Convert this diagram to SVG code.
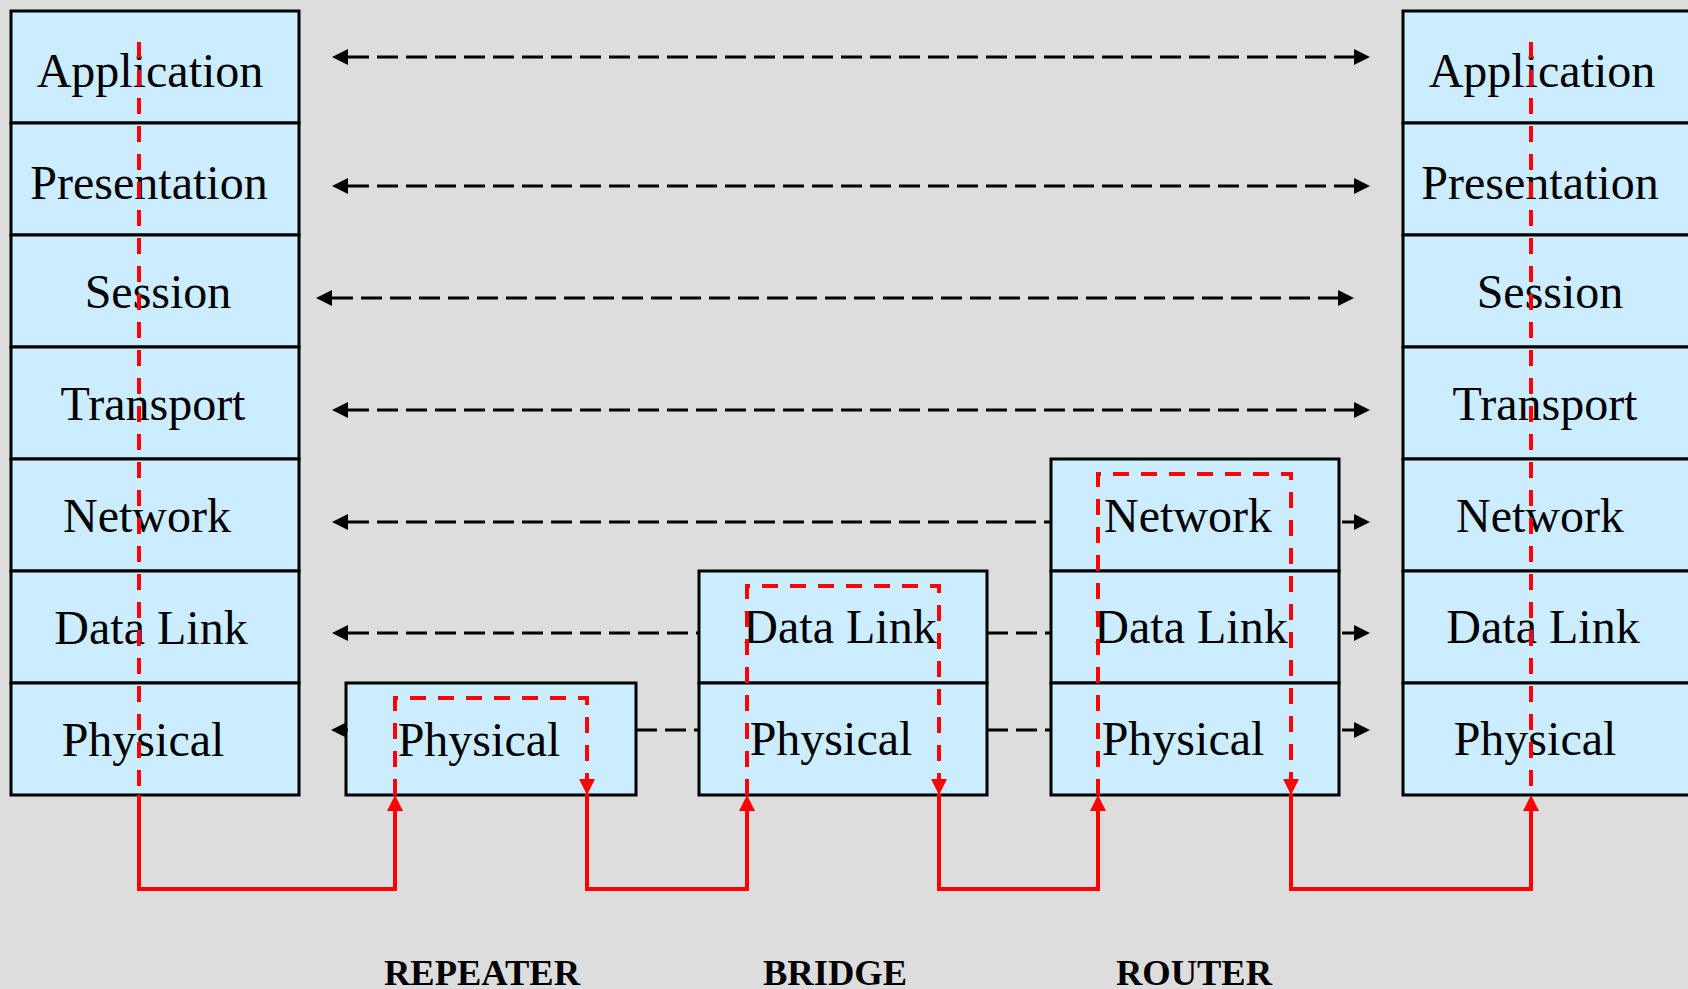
<svg xmlns="http://www.w3.org/2000/svg" width="1688" height="989" viewBox="0 0 1688 989">
<style>
.layer{fill:#CCECFF;stroke:#000;stroke-width:3}
.lt{font-family:"Liberation Serif","Times New Roman",serif;font-size:48px;fill:#000;text-anchor:middle}
.lbl{font-family:"Liberation Serif","Times New Roman",serif;font-size:36.5px;font-weight:bold;fill:#000;text-anchor:middle}
.peer{fill:none;stroke:#000;stroke-width:3;stroke-dasharray:21 8}
.solidk{fill:none;stroke:#000;stroke-width:3}
.rd{fill:none;stroke:#FF0000;stroke-width:4;stroke-dasharray:16 12}
.rs{fill:none;stroke:#FF0000;stroke-width:4}
</style>
<defs>
<marker id="ak" markerUnits="userSpaceOnUse" markerWidth="16" markerHeight="16" refX="0" refY="8" orient="auto-start-reverse" viewBox="0 0 16 16">
<path d="M0,0 L16,8 L0,16 z" fill="#000"/>
</marker>
<marker id="ar" markerUnits="userSpaceOnUse" markerWidth="16" markerHeight="16" refX="0" refY="8" orient="auto" viewBox="0 0 16 16">
<path d="M0,0 L16,8 L0,16 z" fill="#FF0000"/>
</marker>
</defs>
<rect x="0" y="0" width="1688" height="989" fill="#DDDDDD"/>

<g id="host-left">
<rect class="layer" x="11" y="11" width="288" height="112"/>
<rect class="layer" x="11" y="123" width="288" height="112"/>
<rect class="layer" x="11" y="235" width="288" height="112"/>
<rect class="layer" x="11" y="347" width="288" height="112"/>
<rect class="layer" x="11" y="459" width="288" height="112"/>
<rect class="layer" x="11" y="571" width="288" height="112"/>
<rect class="layer" x="11" y="683" width="288" height="112"/>
<text class="lt" x="150" y="87">Application</text>
<text class="lt" x="149" y="199">Presentation</text>
<text class="lt" x="158" y="308">Session</text>
<text class="lt" x="153" y="420">Transport</text>
<text class="lt" x="147" y="532">Network</text>
<text class="lt" x="151" y="644">Data Link</text>
<text class="lt" x="143" y="756">Physical</text>
</g>

<g id="host-right">
<rect class="layer" x="1403" y="11" width="288" height="112"/>
<rect class="layer" x="1403" y="123" width="288" height="112"/>
<rect class="layer" x="1403" y="235" width="288" height="112"/>
<rect class="layer" x="1403" y="347" width="288" height="112"/>
<rect class="layer" x="1403" y="459" width="288" height="112"/>
<rect class="layer" x="1403" y="571" width="288" height="112"/>
<rect class="layer" x="1403" y="683" width="288" height="112"/>
<text class="lt" x="1542" y="87">Application</text>
<text class="lt" x="1540" y="199">Presentation</text>
<text class="lt" x="1550" y="308">Session</text>
<text class="lt" x="1545" y="420">Transport</text>
<text class="lt" x="1540" y="532">Network</text>
<text class="lt" x="1543" y="643">Data Link</text>
<text class="lt" x="1535" y="755">Physical</text>
</g>

<g id="repeater">
<rect class="layer" x="346" y="683" width="290" height="112"/>
<text class="lt" x="479" y="756">Physical</text>
<text class="lbl" x="482" y="985">REPEATER</text>
</g>

<g id="bridge">
<rect class="layer" x="699" y="571" width="288" height="112"/>
<rect class="layer" x="699" y="683" width="288" height="112"/>
<text class="lt" x="840" y="643">Data Link</text>
<text class="lt" x="831" y="755">Physical</text>
<text class="lbl" x="835" y="985">BRIDGE</text>
</g>

<g id="router">
<rect class="layer" x="1051" y="459" width="288" height="112"/>
<rect class="layer" x="1051" y="571" width="288" height="112"/>
<rect class="layer" x="1051" y="683" width="288" height="112"/>
<text class="lt" x="1188" y="532">Network</text>
<text class="lt" x="1191" y="643">Data Link</text>
<text class="lt" x="1183" y="755">Physical</text>
<text class="lbl" x="1194" y="985">ROUTER</text>
</g>

<g id="connectors">
<path class="peer" d="M348,57 H1354" marker-start="url(#ak)" marker-end="url(#ak)"/>
<path class="peer" d="M348,186 H1354" marker-start="url(#ak)" marker-end="url(#ak)"/>
<path class="peer" d="M332,298 H1338" marker-start="url(#ak)" marker-end="url(#ak)"/>
<path class="peer" d="M348,410 H1354" marker-start="url(#ak)" marker-end="url(#ak)"/>
<path class="peer" d="M348,522 H1051" marker-start="url(#ak)"/>
<path class="solidk" d="M1342,522 H1354" marker-end="url(#ak)"/>
<path class="peer" d="M348,633 H699" marker-start="url(#ak)"/>
<path class="peer" d="M987,633 H1051"/>
<path class="solidk" d="M1342,633 H1354" marker-end="url(#ak)"/>
<path class="solidk" d="M348,730 H347" marker-end="url(#ak)"/>
<path class="peer" d="M636,730 H699"/>
<path class="peer" d="M987,730 H1051"/>
<path class="solidk" d="M1342,730 H1354" marker-end="url(#ak)"/>

<path class="rd" d="M139,42 V795"/>
<path class="rs" d="M139,795 V889 H395 V811" marker-end="url(#ar)"/>
<path class="rd" d="M395,795 V698 H587 V779" marker-end="url(#ar)"/>
<path class="rs" d="M587,794 V889 H747 V811" marker-end="url(#ar)"/>
<path class="rd" d="M747,795 V586 H939 V779" marker-end="url(#ar)"/>
<path class="rs" d="M939,794 V889 H1098 V811" marker-end="url(#ar)"/>
<path class="rd" d="M1098,795 V474 H1291 V779" marker-end="url(#ar)"/>
<path class="rs" d="M1291,794 V889 H1531 V811" marker-end="url(#ar)"/>
<path class="rd" d="M1531,42 V795"/>
</g>
</svg>
